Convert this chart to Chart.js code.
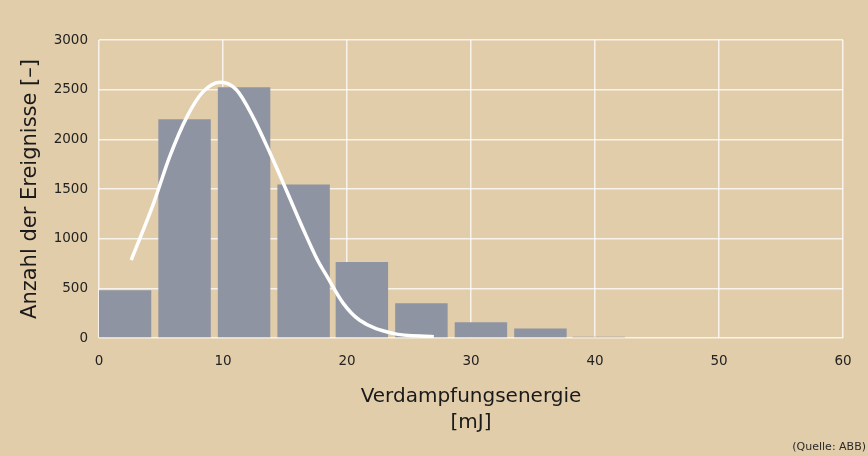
<!DOCTYPE html>
<html>
<head>
<meta charset="utf-8">
<script src="https://cdn.jsdelivr.net/npm/chart.js@4.4.1/dist/chart.umd.min.js"></script>
<style>
  html, body { margin: 0; padding: 0; background: #e2cdaa; }
  .wrap { position: relative; width: 868px; height: 456px; }
  .source { position: absolute; right: 2px; bottom: 3px; font: 11px "DejaVu Sans", sans-serif; color: #2a2a2a; }
</style>
</head>
<body>
<div class="wrap">
  <canvas id="chart"></canvas>
  <div class="source">(Quelle: ABB)</div>
</div>
<script>
// histogram bins (centres as drawn in the original, in mJ) and counts
const binCenters = [2.1, 6.9, 11.7, 16.5, 21.2, 26.0, 30.8, 35.6, 40.3];
const counts = [480, 2203, 2525, 1545, 764, 351, 159, 96, 12];

// fitted distribution curve, read point by point
const curveX = [2.6, 4.4, 5.7, 7.1, 8.4, 9.8, 11.1, 12.4, 13.8, 15.1, 16.5, 17.6, 18.4, 19.7, 21.0, 23.7, 27.0];
const curveY = [785, 1356, 1826, 2229, 2480, 2575, 2497, 2229, 1860, 1490, 1087, 790, 617, 349, 181, 47, 12];

const xTicks = [0, 10, 20, 30, 40, 50, 60];
const yTicks = [0, 500, 1000, 1500, 2000, 2500, 3000];

Chart.defaults.font.family = '"DejaVu Sans", sans-serif';
Chart.defaults.color = '#222';

const gridColor = 'rgba(255,255,255,0.75)';

new Chart(document.getElementById('chart'), {
  type: 'bar',
  data: {
    datasets: [
      {
        type: 'line',
        label: 'Verteilung',
        data: curveX.map((x, i) => ({ x: x, y: curveY[i] })),
        borderColor: '#ffffff',
        borderWidth: 3.5,
        pointRadius: 0,
        cubicInterpolationMode: 'monotone',
        fill: false,
        order: 0,
      },
      {
        label: 'Anzahl',
        data: binCenters.map((x, i) => ({ x: x, y: counts[i] })),
        backgroundColor: '#8e94a2',
        borderWidth: 0,
        barPercentage: 0.9,
        categoryPercentage: 1,
        order: 1,
      },
    ],
  },
  options: {
    responsive: true,
    maintainAspectRatio: false,
    animation: false,
    layout: { padding: { left: 0, right: 25, top: 40, bottom: 0 } },
    plugins: {
      legend: { display: false },
      tooltip: { enabled: false },
    },
    scales: {
      x: {
        type: 'linear',
        min: 0,
        max: 60,
        offset: false,
        afterBuildTicks: (s) => { s.ticks = xTicks.map(v => ({ value: v })); },
        afterFit: (s) => { s.height = 118; },
        grid: { color: gridColor, lineWidth: 1.5, drawTicks: false, offset: false },
        border: { display: false },
        ticks: { padding: 15, font: { size: 13.5 }, maxRotation: 0, callback: (v) => String(v) },
        title: {
          display: true,
          text: ['Verdampfungsenergie', '[mJ]'],
          color: '#1a1a1a',
          font: { size: 20, lineHeight: 1.3 },
          padding: { top: 0, bottom: 20 },
        },
      },
      y: {
        min: 0,
        max: 3000,
        afterBuildTicks: (s) => { s.ticks = yTicks.map(v => ({ value: v })); },
        afterFit: (s) => { s.width = 99; },
        grid: { color: gridColor, lineWidth: 1.5, drawTicks: false },
        border: { display: false },
        ticks: { padding: 11, font: { size: 13.5 }, callback: (v) => String(v) },
        title: {
          display: true,
          text: 'Anzahl der Ereignisse [–]',
          color: '#1a1a1a',
          font: { size: 21 },
          padding: { top: 18, bottom: 0 },
        },
      },
    },
  },
});
</script>
</body>
</html>
